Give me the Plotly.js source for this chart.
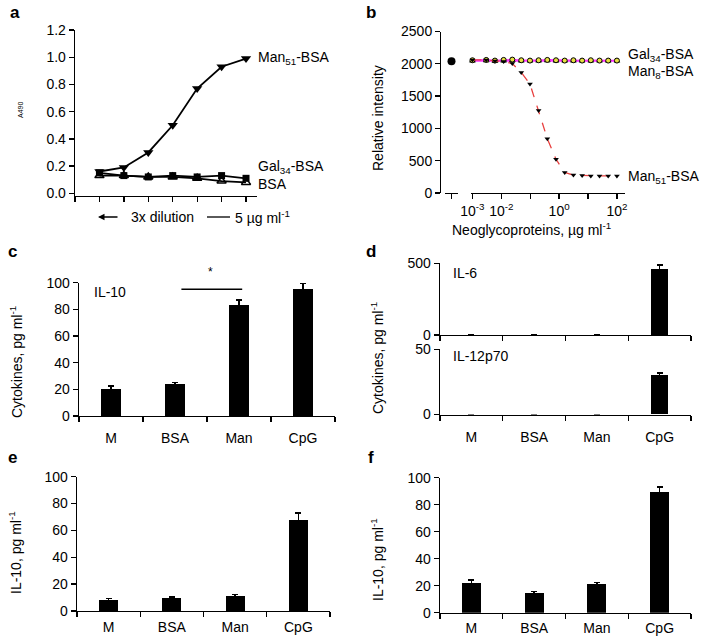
<!DOCTYPE html>
<html>
<head>
<meta charset="utf-8">
<script src="https://cdn.plot.ly/plotly-3.0.1.min.js"></script>
<style>html,body{margin:0;padding:0;background:#fff;}#chart{width:702px;height:639px;}</style>
</head>
<body>
<div id="chart"></div>
<script>
// ---------- Data ----------
// Panel a: ELISA A490 over 3x dilution steps
const dilutionSteps = [1, 2, 3, 4, 5, 6, 7];
const aMan51 = [0.16, 0.19, 0.30, 0.50, 0.77, 0.93, 0.99];
const aGal34 = [0.15, 0.13, 0.12, 0.13, 0.12, 0.13, 0.11];
const aBSA   = [0.13, 0.13, 0.12, 0.12, 0.11, 0.09, 0.08];

// Panel b: relative intensity vs neoglycoprotein concentration (µg/ml)
const bConc = [0.001, 0.003, 0.006, 0.012, 0.024, 0.049, 0.098, 0.195, 0.39, 0.78, 1.56, 3.125, 6.25, 12.5, 25, 50, 100];
const bMan51 = [2060, 2060, 2045, 2035, 2004, 1866, 1687, 1277, 841, 523, 318, 277, 270, 265, 265, 265, 265];
const bGal34 = [2055, 2060, 2050, 2060, 2065, 2055, 2050, 2055, 2060, 2055, 2050, 2055, 2050, 2055, 2050, 2050, 2050];
const bMan8  = [2045, 2048, 2040, 2045, 2050, 2045, 2045, 2045, 2048, 2045, 2045, 2045, 2045, 2045, 2045, 2045, 2045];
const bControl = [2040];

// Bar panels
const categories = ['M', 'BSA', 'Man', 'CpG'];
const cIL10 = [20, 24, 83, 95];
const cIL10Err = [2.5, 1.2, 4, 4.5];
const dIL6 = [0, 0, 0, 458];
const dIL6Err = [0, 0, 0, 30];
const dIL12 = [0, 0, 0, 30.5];
const dIL12Err = [0, 0, 0, 1.5];
const eIL10 = [8.1, 9.6, 10.9, 67.4];
const eIL10Err = [1.3, 1.0, 1.4, 5.6];
const fIL10 = [21.7, 14.8, 21.2, 89.6];
const fIL10Err = [2.5, 1.0, 1.0, 3.7];

// ---------- Helpers ----------
const W = 702, H = 639;
const px = v => v / W;
const py = v => 1 - v / H;
const FONT = 'Liberation Sans, Arial, sans-serif';
const catIdx = categories.map((_, i) => i);

const axBase = {
  showline: true, linecolor: 'black', linewidth: 1.3,
  ticks: 'outside', tickcolor: 'black', ticklen: 5, tickwidth: 1.3,
  showgrid: false, zeroline: false, fixedrange: true,
  tickfont: {size: 14, color: 'black', family: FONT}
};

function catX(domain, anchor, showLabels, labelGap) {
  return Object.assign({}, axBase, {
    domain: domain, anchor: anchor, range: [-0.5, 3.5],
    tickmode: 'array', tickvals: catIdx, ticktext: categories,
    showticklabels: showLabels,
    tickcolor: 'rgba(0,0,0,0)', ticklen: labelGap,
    minor: {tickmode: 'array', tickvals: [-0.5, 0.5, 1.5, 2.5, 3.5], ticks: 'outside',
            ticklen: 5, tickcolor: 'black', tickwidth: 1.3, showgrid: false}
  });
}

function barTrace(vals, errs, xa, ya, width) {
  return {
    type: 'bar', x: catIdx, y: vals, xaxis: xa, yaxis: ya,
    width: width, marker: {color: 'black', line: {width: 0}},
    error_y: {type: 'data', array: errs.map(e => e > 0 ? e : null), visible: true,
              color: 'black', thickness: 1.5, width: 3},
    hoverinfo: 'skip'
  };
}

// ---------- Traces ----------
const traces = [
  // panel a
  {x: dilutionSteps, y: aBSA, xaxis: 'x', yaxis: 'y', mode: 'lines+markers',
   line: {color: 'black', width: 1.8},
   marker: {symbol: 'triangle-up-open', size: 8, color: 'black', line: {width: 1.5, color: 'black'}}},
  {x: dilutionSteps, y: aGal34, xaxis: 'x', yaxis: 'y', mode: 'lines+markers',
   line: {color: 'black', width: 1.8},
   marker: {symbol: 'square', size: 7, color: 'black'}},
  {x: dilutionSteps, y: aMan51, xaxis: 'x', yaxis: 'y', mode: 'lines+markers',
   line: {color: 'black', width: 1.8},
   marker: {symbol: 'triangle-down', size: 9, color: 'black'}},

  // panel b
  {x: bConc, y: bMan8, xaxis: 'x2', yaxis: 'y2', mode: 'lines+markers',
   line: {color: '#ff33ff', width: 1.6},
   marker: {symbol: 'triangle-up', size: 5, color: '#3fa03f', line: {width: 0.8, color: 'black'}}, cliponaxis: false},
  {x: bConc, y: bGal34, xaxis: 'x2', yaxis: 'y2', mode: 'lines+markers',
   line: {color: '#ff33ff', width: 1.6},
   marker: {symbol: 'circle', size: 5, color: '#e6e040', line: {width: 1, color: 'black'}}, cliponaxis: false},
  {x: bConc, y: bMan51, xaxis: 'x2', yaxis: 'y2', mode: 'lines+markers',
   line: {color: '#e8403f', width: 1.3, dash: 'dash'},
   marker: {symbol: 'triangle-down', size: 5, color: 'black'}, cliponaxis: false},
  {x: [1], y: bControl, xaxis: 'x3', yaxis: 'y2', mode: 'markers',
   marker: {symbol: 'circle', size: 8, color: 'black'}, cliponaxis: false},

  // panel c
  barTrace(cIL10, cIL10Err, 'x4', 'y4', 0.3),
  // panel d
  barTrace(dIL6, dIL6Err, 'x5', 'y5', 0.27),
  barTrace(dIL12, dIL12Err, 'x6', 'y6', 0.27),
  // panel e
  barTrace(eIL10, eIL10Err, 'x7', 'y7', 0.3),
  // panel f
  barTrace(fIL10, fIL10Err, 'x8', 'y8', 0.3)
];

// ---------- Layout ----------
const layout = {
  width: W, height: H, margin: {l: 0, r: 0, t: 0, b: 0},
  paper_bgcolor: 'white', plot_bgcolor: 'rgba(0,0,0,0)',
  showlegend: false, font: {family: FONT, color: 'black', size: 14},
  bargap: 0,

  // a
  xaxis: Object.assign({}, axBase, {domain: [px(75), px(257)], range: [0, 7.45], anchor: 'y',
    tickmode: 'array', tickvals: [0, 1, 2, 3, 4, 5, 6, 7], showticklabels: false}),
  yaxis: Object.assign({}, axBase, {domain: [py(196), py(30)], range: [-0.02, 1.2], anchor: 'x',
    tickmode: 'array', tickvals: [0, 0.2, 0.4, 0.6, 0.8, 1.0, 1.2], tickformat: '.1f'}),

  // b
  xaxis2: Object.assign({}, axBase, {type: 'log', domain: [px(471), px(625)], range: [-3.05, 2.28], anchor: 'y2',
    tickmode: 'array', tickvals: [0.001, 0.01, 0.1, 1, 10, 100],
    ticktext: ['10<sup>-3</sup>', '10<sup>-2</sup>', '', '10<sup>0</sup>', '', '10<sup>2</sup>']}),
  xaxis3: Object.assign({}, axBase, {domain: [px(445), px(458)], range: [0, 2], anchor: 'y2',
    tickmode: 'array', tickvals: [1], showticklabels: false}),
  yaxis2: Object.assign({}, axBase, {domain: [py(193), py(31.5)], range: [0, 2500], anchor: 'free', position: px(440),
    tickmode: 'array', tickvals: [0, 500, 1000, 1500, 2000, 2500]}),

  // c
  xaxis4: catX([px(79), px(335)], 'y4', true, 9),
  yaxis4: Object.assign({}, axBase, {domain: [py(416), py(282.7)], range: [0, 100], anchor: 'x4',
    tickmode: 'array', tickvals: [0, 20, 40, 60, 80, 100]}),

  // d
  xaxis5: catX([px(440), px(691)], 'y5', false, 9),
  yaxis5: Object.assign({}, axBase, {domain: [py(335), py(263.3)], range: [0, 500], anchor: 'x5',
    tickmode: 'array', tickvals: [0, 500]}),
  xaxis6: catX([px(440), px(691)], 'y6', true, 9),
  yaxis6: Object.assign({}, axBase, {domain: [py(414.5), py(349.3)], range: [0, 50], anchor: 'x6',
    tickmode: 'array', tickvals: [0, 50]}),

  // e
  xaxis7: catX([px(77), px(330)], 'y7', true, 3),
  yaxis7: Object.assign({}, axBase, {domain: [py(611), py(476.7)], range: [0, 100], anchor: 'x7',
    tickmode: 'array', tickvals: [0, 20, 40, 60, 80, 100]}),

  // f
  xaxis8: catX([px(440), px(691)], 'y8', true, 2),
  yaxis8: Object.assign({}, axBase, {domain: [py(612.7), py(477.7)], range: [0, 100], anchor: 'x8',
    tickmode: 'array', tickvals: [0, 20, 40, 60, 80, 100]}),

  shapes: [
    // significance bar in c
    {type: 'line', xref: 'x4', yref: 'y4', x0: 1.1, x1: 2.05, y0: 95, y1: 95, line: {color: 'black', width: 1.5}},
    // line in the panel-a axis caption
    {type: 'line', xref: 'paper', yref: 'paper', x0: px(207), x1: px(230), y0: py(217), y1: py(217), line: {color: 'black', width: 1.3}}
  ],
  annotations: []
};

function ann(text, x, y, opts) {
  layout.annotations.push(Object.assign({
    text: text, xref: 'paper', yref: 'paper', x: px(x), y: py(y),
    showarrow: false, xanchor: 'left', yanchor: 'middle',
    font: {family: FONT, size: 14, color: 'black'}
  }, opts || {}));
}
const bold = {font: {family: FONT, size: 17, color: 'black', weight: 'bold'}};

// panel letters
ann('<b>a</b>', 8, 12, bold);
ann('<b>b</b>', 364, 12, bold);
ann('<b>c</b>', 6, 251, bold);
ann('<b>d</b>', 364, 251, bold);
ann('<b>e</b>', 6, 457, bold);
ann('<b>f</b>', 366, 457, bold);

// panel a
ann('Man<sub>51</sub>-BSA', 256, 58);
ann('Gal<sub>34</sub>-BSA', 256, 167);
ann('BSA', 256, 184);
ann('A490', 20, 110, {textangle: -90, xanchor: 'center', font: {family: FONT, size: 7, color: 'black'}});
ann('3x dilution', 162, 217, {xanchor: 'center'});
ann('5 µg ml<sup>-1</sup>', 233, 217);
layout.annotations.push({text: '', xref: 'paper', yref: 'paper', x: px(98), y: py(217),
  showarrow: true, ax: 21, ay: 0, arrowhead: 2, arrowsize: 1, arrowwidth: 1.3, arrowcolor: 'black'});

// panel b
ann('Gal<sub>34</sub>-BSA', 626, 55);
ann('Man<sub>8</sub>-BSA', 626, 72);
ann('Man<sub>51</sub>-BSA', 626, 177);
ann('Relative intensity', 378, 118, {textangle: -90, xanchor: 'center'});
ann('Neoglycoproteins, µg ml<sup>-1</sup>', 531, 229, {xanchor: 'center'});

// panel c
ann('IL-10', 92, 292);
ann('*', 210, 272, {xanchor: 'center', font: {family: FONT, size: 12, color: 'black'}});
ann('Cytokines, pg ml<sup>-1</sup>', 16, 362, {textangle: -90, xanchor: 'center'});

// panel d
ann('IL-6', 451, 273);
ann('IL-12p70', 451, 356);
ann('Cytokines, pg ml<sup>-1</sup>', 377, 358, {textangle: -90, xanchor: 'center'});

// panel e, f
ann('IL-10, pg ml<sup>-1</sup>', 15, 553, {textangle: -90, xanchor: 'center'});
ann('IL-10, pg ml<sup>-1</sup>', 377, 560, {textangle: -90, xanchor: 'center'});

Plotly.newPlot('chart', traces, layout, {staticPlot: true, displayModeBar: false});
</script>
</body>
</html>
